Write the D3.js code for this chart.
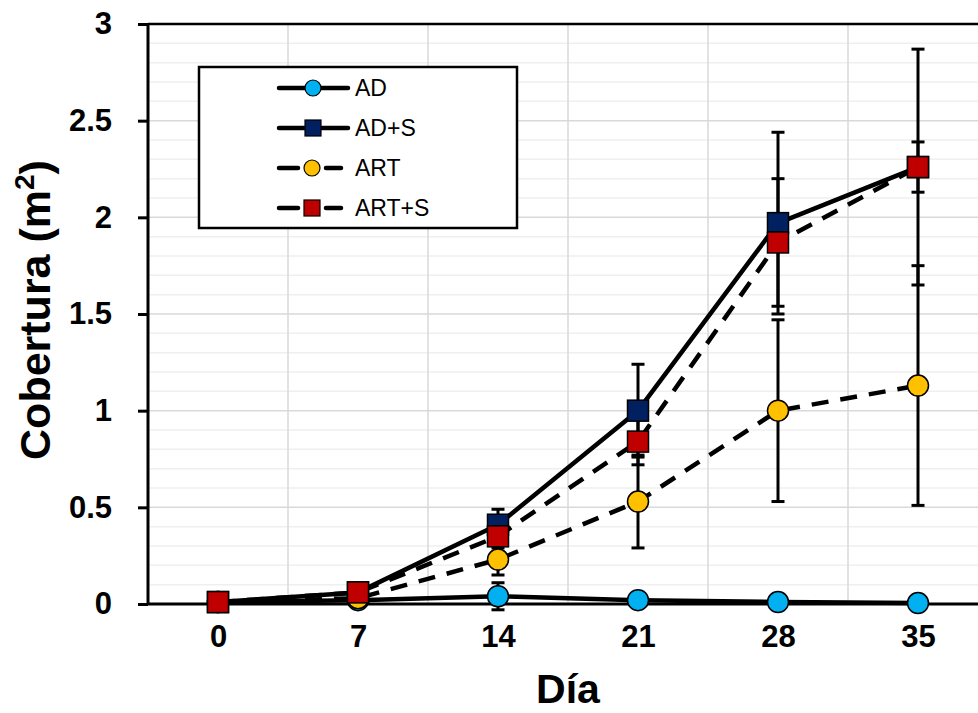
<!DOCTYPE html>
<html>
<head>
<meta charset="utf-8">
<script src="https://cdn.jsdelivr.net/npm/d3@7"></script>
<style>
  html, body { margin: 0; padding: 0; background: #fff; }
  svg { display: block; font-family: "Liberation Sans", Arial, sans-serif; }
</style>
</head>
<body>
<svg id="chart" width="978" height="713"></svg>
<script>
// Cobertura (m²) por día de muestreo
const days = [0, 7, 14, 21, 28, 35];
const dayLabels = ["0", "7", "14", "21", "28", "35"];
const yTicks = [0, 0.5, 1, 1.5, 2, 2.5, 3];

const seriesNames = ["AD", "AD+S", "ART", "ART+S"];
const adValues   = [0.01, 0.02, 0.04, 0.02, 0.01, 0.005];
const adsValues  = [0.01, 0.06, 0.41, 1.00, 1.97, 2.26];
const artValues  = [0.01, 0.03, 0.23, 0.53, 1.00, 1.13];
const artsValues = [0.01, 0.06, 0.35, 0.84, 1.87, 2.26];

const adErr   = [0, 0.03, 0.07, 0.01, 0.01, 0.005];
const adsErr  = [0, 0.02, 0.08, 0.24, 0.47, 0.61];
const artErr  = [0, 0.02, 0.08, 0.24, 0.47, 0.62];
const artsErr = [0, 0.02, 0.06, 0.12, 0.33, 0.13];

const seriesFill  = ["#00b0f0", "#002060", "#ffc000", "#c00000"];
const seriesShape = ["circle", "square", "circle", "square"];
const seriesDash  = [null, null, "17,12", "17,12"];

const series = seriesNames.map((name, i) => ({
  name,
  values: [adValues, adsValues, artValues, artsValues][i],
  errors: [adErr, adsErr, artErr, artsErr][i],
  fill: seriesFill[i],
  shape: seriesShape[i],
  dash: seriesDash[i]
}));

const svg = d3.select("#chart");
const plotLeft = 148, plotRight = 988, plotTop = 24, plotBottom = 604;

const x = d3.scaleLinear().domain([-3.5, 38.5]).range([plotLeft, plotRight]);
const y = d3.scaleLinear().domain([0, 3]).range([plotBottom, plotTop]);

// gridlines: minor every 0.1, major every 0.5, vertical between days
const grid = svg.append("g");
const minor = d3.range(1, 30).map(k => k / 10).filter(v => Math.round(v * 10) % 5 !== 0);
grid.selectAll(".minor").data(minor).join("line")
  .attr("x1", plotLeft).attr("x2", 978)
  .attr("y1", d => y(d)).attr("y2", d => y(d))
  .attr("stroke", "#efefef").attr("stroke-width", 1.5);
grid.selectAll(".major").data(yTicks.slice(1, -1)).join("line")
  .attr("x1", plotLeft).attr("x2", 978)
  .attr("y1", d => y(d)).attr("y2", d => y(d))
  .attr("stroke", "#d9d9d9").attr("stroke-width", 1.5);
grid.selectAll(".vgrid").data(days.map(d => d + 3.5)).join("line")
  .attr("x1", d => x(d)).attr("x2", d => x(d))
  .attr("y1", plotTop).attr("y2", plotBottom)
  .attr("stroke", "#d9d9d9").attr("stroke-width", 1.5);

// frame top
svg.append("line").attr("x1", plotLeft).attr("x2", 978).attr("y1", plotTop).attr("y2", plotTop)
  .attr("stroke", "#000").attr("stroke-width", 2.5);

// axes
const yAxis = svg.append("g").attr("transform", `translate(${plotLeft},0)`)
  .call(d3.axisLeft(y).tickValues(yTicks).tickSize(10).tickPadding(26)
    .tickFormat(d => String(d)));
yAxis.select(".domain").attr("stroke", "#000").attr("stroke-width", 3)
  .attr("d", `M0,${plotTop}V${plotBottom}`);
yAxis.selectAll(".tick line").attr("stroke", "#000").attr("stroke-width", 3);
yAxis.selectAll(".tick text").attr("font-size", 31).attr("font-weight", "bold")
  .attr("fill", "#000").attr("font-family", "Liberation Sans, Arial, sans-serif");

const xAxis = svg.append("g").attr("transform", `translate(0,${plotBottom})`)
  .call(d3.axisBottom(x).tickValues(days).tickSize(0).tickPadding(21)
    .tickFormat((d, i) => dayLabels[i]));
xAxis.select(".domain").attr("stroke", "#000").attr("stroke-width", 3)
  .attr("d", `M${plotLeft},0H978`);
xAxis.selectAll(".tick text").attr("font-size", 31).attr("font-weight", "bold")
  .attr("fill", "#000").attr("font-family", "Liberation Sans, Arial, sans-serif");

// axis titles
svg.append("text").attr("x", 568).attr("y", 703).attr("text-anchor", "middle")
  .attr("font-size", 41).attr("font-weight", "bold").text("Día");
const yt = svg.append("text")
  .attr("transform", "translate(50,310) rotate(-90)")
  .attr("text-anchor", "middle").attr("font-size", 43).attr("font-weight", "bold");
yt.append("tspan").text("Cobertura (m");
yt.append("tspan").attr("font-size", 28).attr("dy", -16).text("2");
yt.append("tspan").attr("dy", 16).text(")");

// series lines
const line = d3.line().x((d, i) => x(days[i])).y(d => y(d));
svg.append("g").selectAll("path").data(series).join("path")
  .attr("d", s => line(s.values))
  .attr("fill", "none").attr("stroke", "#000").attr("stroke-width", 4.5)
  .attr("stroke-linejoin", "round")
  .attr("stroke-dasharray", s => s.dash);

// error bars
const eb = svg.append("g");
series.forEach(s => {
  s.values.forEach((v, i) => {
    const e = s.errors[i];
    if (!e) return;
    const cx = x(days[i]);
    eb.append("line").attr("x1", cx).attr("x2", cx)
      .attr("y1", y(v - e)).attr("y2", y(v + e))
      .attr("stroke", "#000").attr("stroke-width", 3);
    [v - e, v + e].forEach(t => {
      eb.append("line").attr("x1", cx - 6.5).attr("x2", cx + 6.5)
        .attr("y1", y(t)).attr("y2", y(t))
        .attr("stroke", "#000").attr("stroke-width", 3);
    });
  });
});

// markers
function marker(g, shape, fill, cx, cy) {
  if (shape === "circle") {
    g.append("circle").attr("cx", cx).attr("cy", cy).attr("r", 10.5)
      .attr("fill", fill).attr("stroke", "#000").attr("stroke-width", 1.5);
  } else {
    g.append("rect").attr("x", cx - 10.5).attr("y", cy - 10.5)
      .attr("width", 21).attr("height", 21)
      .attr("fill", fill).attr("stroke", "#000").attr("stroke-width", 1.5);
  }
}
const mk = svg.append("g");
series.forEach(s => {
  s.values.forEach((v, i) => marker(mk, s.shape, s.fill, x(days[i]), y(v)));
});

// legend
const lg = svg.append("g");
lg.append("rect").attr("x", 199).attr("y", 67).attr("width", 318).attr("height", 161)
  .attr("fill", "#fff").attr("stroke", "#000").attr("stroke-width", 2.5);
series.forEach((s, i) => {
  const ly = 88 + i * 40;
  if (s.dash) {
    lg.append("line").attr("x1", 279).attr("x2", 298).attr("y1", ly).attr("y2", ly)
      .attr("stroke", "#000").attr("stroke-width", 4.5).attr("stroke-linecap", "round");
    lg.append("line").attr("x1", 326).attr("x2", 341).attr("y1", ly).attr("y2", ly)
      .attr("stroke", "#000").attr("stroke-width", 4.5).attr("stroke-linecap", "round");
  } else {
    lg.append("line").attr("x1", 279).attr("x2", 348).attr("y1", ly).attr("y2", ly)
      .attr("stroke", "#000").attr("stroke-width", 4.5).attr("stroke-linecap", "round");
  }
  const mx = s.dash ? 312 : 313;
  if (s.shape === "circle") {
    lg.append("circle").attr("cx", mx).attr("cy", ly).attr("r", 8)
      .attr("fill", s.fill).attr("stroke", "#000").attr("stroke-width", 1.2);
  } else {
    lg.append("rect").attr("x", mx - 8).attr("y", ly - 8).attr("width", 16).attr("height", 16)
      .attr("fill", s.fill).attr("stroke", "#000").attr("stroke-width", 1.2);
  }
  lg.append("text").attr("x", 355).attr("y", ly).attr("dy", "0.35em")
    .attr("font-size", 23).attr("fill", "#000").text(s.name);
});
</script>
</body>
</html>
